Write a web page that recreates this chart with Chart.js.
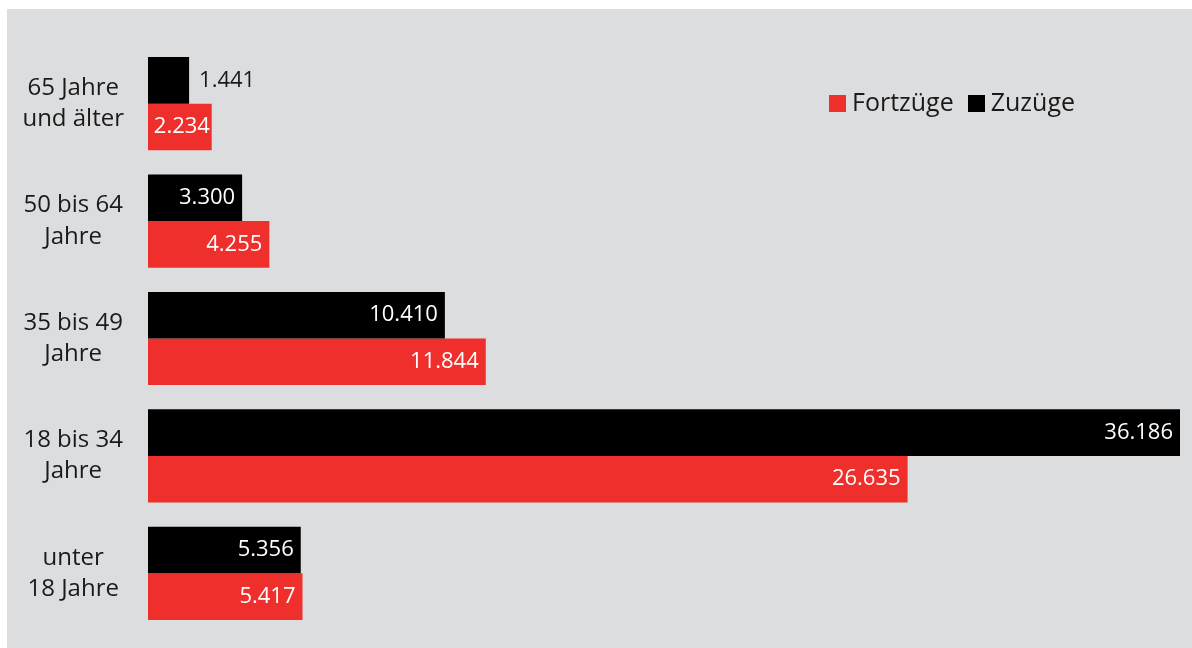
<!DOCTYPE html>
<html lang="de">
<head>
<meta charset="utf-8">
<title>Zuzüge und Fortzüge nach Alter</title>
<script src="https://cdn.jsdelivr.net/npm/chart.js@4.4.1/dist/chart.umd.min.js"></script>
<style>
    body { margin: 0; background: #ffffff; font-family: "Open Sans", sans-serif; }
    #panel { position: absolute; left: 7px; top: 9px; width: 1185px; height: 639px; background: #dcdddf; }
    #legend { position: absolute; left: 822px; top: 75px; font-size: 25px; color: #1a1a1a; white-space: nowrap; }
    #legend span.box { display: inline-block; width: 17px; height: 17px; margin-right: 6px; vertical-align: -1px; }
    #legend span.item { margin-right: 14px; }
</style>
</head>
<body>
<div id="panel">
    <canvas id="migrationChart"></canvas>
    <div id="legend"></div>
</div>
<script>
// Age groups, top to bottom
const categories = [
    ['65 Jahre', 'und älter'],
    ['50 bis 64', 'Jahre'],
    ['35 bis 49', 'Jahre'],
    ['18 bis 34', 'Jahre'],
    ['unter', '18 Jahre']
];
const zuzuege = [1441, 3300, 10410, 36186, 5356];
const fortzuege = [2234, 4255, 11844, 26635, 5417];

const colorZuzuege = '#000000';
const colorFortzuege = '#ee2f2b';

document.addEventListener('DOMContentLoaded', function() {
    initLegend();
    initChart();
});

/**
 * Legend in the upper right of the panel
 */
function initLegend() {
    const legend = document.getElementById('legend');
    const items = [
        { label: 'Fortzüge', color: colorFortzuege },
        { label: 'Zuzüge', color: colorZuzuege }
    ];
    items.forEach(item => {
        const span = document.createElement('span');
        span.className = 'item';
        span.innerHTML = `<span class="box" style="background:${item.color}"></span>${item.label}`;
        legend.appendChild(span);
    });
}

function formatNumber(value) {
    return value.toLocaleString('de-DE');
}

// Value labels at the end of each bar, outside if the bar is too short
const barValueLabels = {
    id: 'barValueLabels',
    afterDatasetsDraw(chart) {
        const ctx = chart.ctx;
        ctx.save();
        ctx.font = '22px "Open Sans", sans-serif';
        ctx.textBaseline = 'middle';
        chart.data.datasets.forEach((dataset, i) => {
            const meta = chart.getDatasetMeta(i);
            meta.data.forEach((bar, j) => {
                const text = formatNumber(dataset.data[j]);
                const textWidth = ctx.measureText(text).width;
                const barWidth = bar.x - bar.base;
                if (textWidth + 12 <= barWidth) {
                    ctx.fillStyle = '#ffffff';
                    ctx.textAlign = 'right';
                    ctx.fillText(text, bar.x - 7, bar.y);
                } else if (textWidth + 2 <= barWidth) {
                    ctx.fillStyle = '#ffffff';
                    ctx.textAlign = 'center';
                    ctx.fillText(text, bar.base + barWidth / 2 + 2, bar.y);
                } else {
                    ctx.fillStyle = '#1a1a1a';
                    ctx.textAlign = 'left';
                    ctx.fillText(text, bar.x + 10, bar.y);
                }
            });
        });
        ctx.restore();
    }
};

/**
 * Horizontal bar chart
 */
function initChart() {
    const chartElement = document.getElementById('migrationChart');
    new Chart(chartElement, {
        type: 'bar',
        data: {
            labels: categories,
            datasets: [{
                label: 'Zuzüge',
                data: zuzuege,
                backgroundColor: colorZuzuege,
                borderWidth: 0
            }, {
                label: 'Fortzüge',
                data: fortzuege,
                backgroundColor: colorFortzuege,
                borderWidth: 0
            }]
        },
        options: {
            indexAxis: 'y',
            responsive: true,
            maintainAspectRatio: false,
            animation: false,
            barPercentage: 1,
            categoryPercentage: 0.794,
            layout: {
                padding: { top: 36, bottom: 16, right: 12, left: 0 }
            },
            plugins: {
                legend: { display: false },
                tooltip: { enabled: false }
            },
            scales: {
                x: {
                    display: false,
                    min: 0,
                    max: 36186
                },
                y: {
                    grid: { display: false, drawTicks: false },
                    border: { display: false },
                    afterFit: function(scale) {
                        scale.width = 141;
                        scale.paddingTop = 0;
                        scale.paddingBottom = 0;
                    },
                    ticks: {
                        crossAlign: 'center',
                        padding: 24,
                        color: '#1a1a1a',
                        font: { family: '"Open Sans", sans-serif', size: 24, lineHeight: 1.3 }
                    }
                }
            }
        },
        plugins: [barValueLabels]
    });
}
</script>
</body>
</html>
